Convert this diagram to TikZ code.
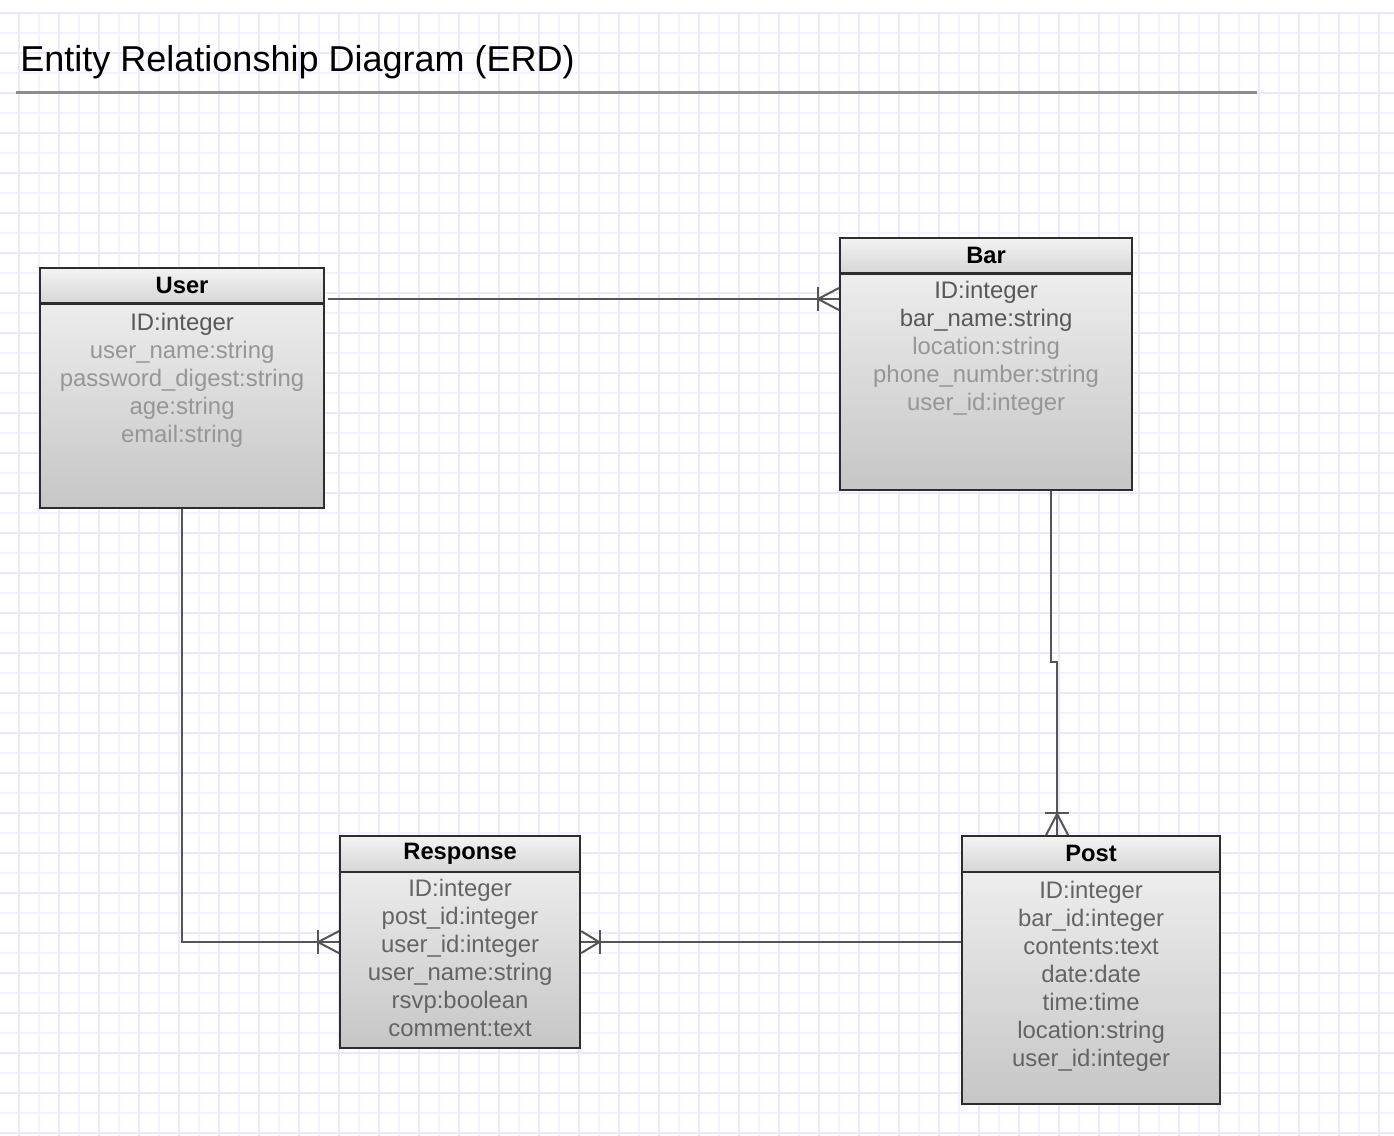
\documentclass[tikz,border=0pt]{standalone}
\usepackage{fontspec}
\setmainfont{Liberation Sans}
\usetikzlibrary{positioning,calc}
\definecolor{GridMinor}{RGB}{243,243,255}
\definecolor{GridMajor}{RGB}{233,233,252}
\definecolor{EdgeGray}{RGB}{45,45,45}
\definecolor{LinkGray}{RGB}{85,85,85}
\definecolor{RuleGray}{RGB}{140,140,140}
\definecolor{KeyGray}{RGB}{88,88,88}
\definecolor{AttrGray}{RGB}{100,100,100}
\definecolor{FadeGray}{RGB}{150,150,150}
\definecolor{ShadeTop}{RGB}{243,243,243}
\definecolor{ShadeBottom}{RGB}{198,198,198}
\definecolor{HeadBottom}{RGB}{214,214,214}
\tikzset{
  entity/.style={draw=EdgeGray, line width=0.045cm, top color=ShadeTop,
    bottom color=ShadeBottom, anchor=north west, inner sep=0pt},
  entityhead/.style={draw=EdgeGray, line width=0.045cm, top color=ShadeTop,
    bottom color=HeadBottom, anchor=north west, inner sep=0pt,
    minimum height=0.71cm, font=\fontsize{13.5pt}{16pt}\selectfont\bfseries},
  attrs/.style={align=center, inner sep=0pt, text=AttrGray,
    font=\fontsize{13.6pt}{15.94pt}\selectfont},
  link/.style={draw=LinkGray, line width=0.04cm},
  gridline/.style={draw=GridMinor, line width=0.04cm},
  gridmajor/.style={draw=GridMajor, line width=0.04cm}
}
\begin{document}
\begin{tikzpicture}[x=0.02cm, y=-0.02cm]
  \useasboundingbox (0,0) rectangle (1394,1136);
  \fill[white] (0,0) rectangle (1394,1136);
  % background grid
  \foreach \gx in {39,79,...,1394} \draw[gridline] (\gx,13) -- (\gx,1136);
  \foreach \gy in {33,73,...,1136} \draw[gridline] (0,\gy) -- (1394,\gy);
  \foreach \gx in {19,59,...,1394} \draw[gridmajor] (\gx,13) -- (\gx,1136);
  \foreach \gy in {13,53,...,1136} \draw[gridmajor] (0,\gy) -- (1394,\gy);

  % title
  \node[anchor=base west, inner sep=0pt, font=\fontsize{20.5pt}{24pt}\selectfont] (title) at (20,71) {Entity Relationship Diagram (ERD)};
  \draw[draw=RuleGray, line width=0.06cm] (16,92) -- (1257,92);

  % entities
  \node[entity, minimum width=5.68cm, minimum height=4.8cm] (user) at (39,267) {};
  \node[entityhead, minimum width=5.68cm] (user-head) at (user.north west) {User};
  \node[attrs, text=FadeGray, below=0.16cm of user-head] (user-attrs) {\textcolor{KeyGray}{ID:integer}\\user\_name:string\\password\_digest:string\\age:string\\email:string};

  \node[entity, minimum width=5.84cm, minimum height=5.04cm] (bar) at (839,237) {};
  \node[entityhead, minimum width=5.84cm] (bar-head) at (bar.north west) {Bar};
  \node[attrs, text=FadeGray, below=0.12cm of bar-head] (bar-attrs) {\textcolor{KeyGray}{ID:integer}\\\textcolor{KeyGray}{bar\_name:string}\\location:string\\phone\_number:string\\user\_id:integer};

  \node[entity, minimum width=4.8cm, minimum height=4.24cm] (resp) at (339,835) {};
  \node[entityhead, minimum width=4.8cm] (resp-head) at (resp.north west) {Response};
  \node[attrs, below=0.12cm of resp-head] (resp-attrs) {ID:integer\\post\_id:integer\\user\_id:integer\\user\_name:string\\rsvp:boolean\\comment:text};

  \node[entity, minimum width=5.16cm, minimum height=5.36cm] (post) at (961,835) {};
  \node[entityhead, minimum width=5.16cm] (post-head) at (post.north west) {Post};
  \node[attrs, below=0.16cm of post-head] (post-attrs) {ID:integer\\bar\_id:integer\\contents:text\\date:date\\time:time\\location:string\\user\_id:integer};

  % relationships
  \coordinate (ub-start) at (328,299);
  \draw[link] (ub-start) -- (ub-start -| bar.west);
  \draw[link] (ub-start -| bar.west) ++(0,-11) -- ++(-21,11) -- ++(21,11);
  \draw[link] (ub-start -| bar.west) ++(-21,-12) -- ++(0,24);

  \draw[link] (user.south) |- (resp.west);
  \draw[link] (resp.west) ++(0,-11) -- ++(-21,11) -- ++(21,11);
  \draw[link] (resp.west) ++(-21,-12) -- ++(0,24);

  \draw[link] (post.west |- resp.east) -- (resp.east);
  \draw[link] (resp.east) ++(0,-11) -- ++(18,11) -- ++(-18,11);
  \draw[link] (resp.east) ++(19,-12) -- ++(0,24);

  \coordinate (bp-a) at ($(bar.south)+(65,0)$);
  \coordinate (bp-b) at ($(post.north)+(-34,0)$);
  \draw[link] (bp-a) -- ++(0,171) -| (bp-b);
  \draw[link] (bp-b) ++(-11,0) -- ++(11,-21) -- ++(11,21);
  \draw[link] (bp-b) ++(-12,-22) -- ++(24,0);
\end{tikzpicture}
\end{document}
